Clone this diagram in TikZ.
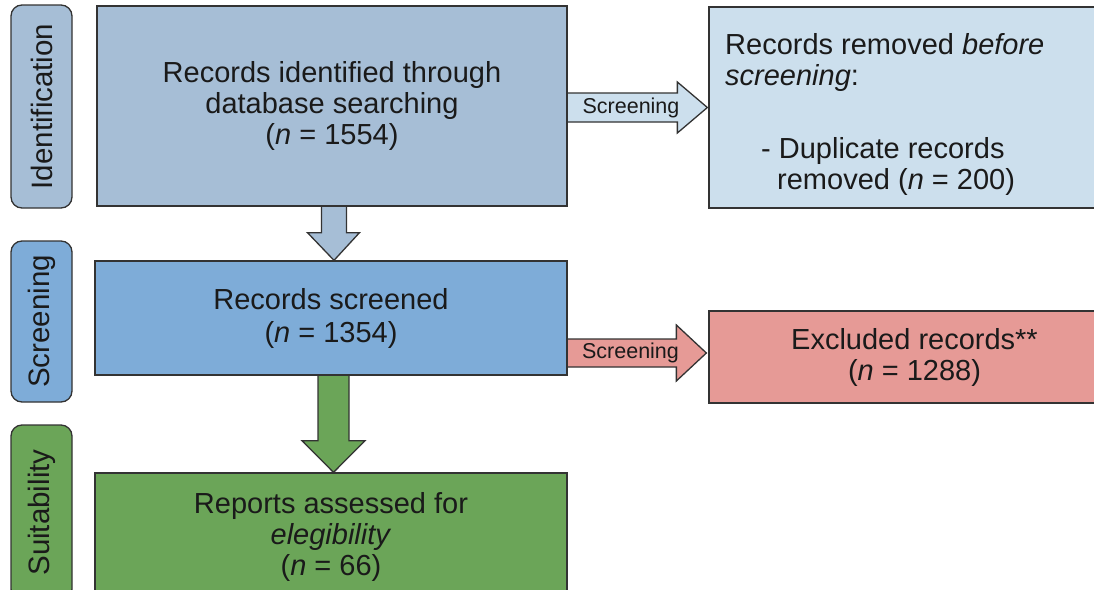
\documentclass[tikz,border=0pt]{standalone}
\usepackage{fontspec}
\setmainfont{Liberation Sans}
\usetikzlibrary{calc}
\pgfdeclarelayer{bg}
\pgfsetlayers{bg,main}
\definecolor{cIdent}{HTML}{A6BED6}
\definecolor{cScreen}{HTML}{7EACD8}
\definecolor{cGreen}{HTML}{6BA558}
\definecolor{cLight}{HTML}{CCDFED}
\definecolor{cRed}{HTML}{E69A96}
\definecolor{cLine}{HTML}{333333}
\definecolor{cText}{HTML}{1A1A1A}
\begin{document}
\begin{tikzpicture}[x=1pt,y=-1pt,
  box/.style={draw=cLine, line width=1.3pt, inner sep=0pt, align=center,
    text=cText, font=\fontsize{29}{31}\selectfont},
  lab/.style={draw=cLine, line width=1.3pt, rounded corners=11pt, inner sep=0pt,
    text=cText, font=\fontsize{29.5}{31}\selectfont, rotate=90},
  blockarrow/.style={draw=cLine, line width=1.3pt, line join=miter},
  arrowlabel/.style={text=cText, font=\fontsize{21.5}{24}\selectfont, inner sep=0pt}]
\clip (0,0) rectangle (1094,589);

% phase labels
\node[lab, fill=cIdent, minimum width=203, minimum height=61] (l1) at (41.5,106.5) {Identification};
\node[lab, fill=cScreen, minimum width=161, minimum height=61] (l2) at (41.5,321.5) {Screening};
\node[lab, fill=cGreen, minimum width=175, minimum height=61] (l3) at (41.5,512.5) {Suitability};

% main boxes
\node[box, fill=cIdent, minimum width=470, minimum height=200] (b1) at (332,106)
  {Records identified through\\database searching\\(\textit{n} = 1554)};
\node[box, fill=cScreen, minimum width=472, minimum height=114] (b2) at (331,318)
  {Records screened\\[2pt](\textit{n} = 1354)};
\node[box, fill=cGreen, minimum width=472, minimum height=127] (b3) at (331,536.5)
  {Reports assessed for\\\textit{elegibility}\\(\textit{n} = 66)};

% right boxes
\node[box, fill=cLight, minimum width=411, minimum height=201] (rm) at (914.5,107.5) {};
\node[anchor=north west, inner sep=0pt, align=left, text=cText,
  font=\fontsize{29}{31}\selectfont] (rmt) at (725,33)
  {Records removed \textit{before}\\\textit{screening}:\\[42pt]
   \hspace*{36pt}- Duplicate records\\
   \hspace*{52pt}removed (\textit{n} = 200)};
\node[box, fill=cRed, minimum width=411, minimum height=92] (ex) at (914.5,357)
  {Excluded records**\\(\textit{n} = 1288)};

% block arrows (behind the boxes)
\begin{pgfonlayer}{bg}
\fill[white] (0,0) rectangle (1094,589);
\draw[blockarrow, fill=cIdent] ($(b1.south)+(-10.5,0)$) -- ($(b1.south)+(-10.5,26)$)
  -- ($(b1.south)+(-24.5,26)$) -- ($(b2.north)+(3,0)$) -- ($(b1.south)+(27.5,26)$)
  -- ($(b1.south)+(14.5,26)$) -- ($(b1.south)+(14.5,0)$);

\draw[blockarrow, fill=cGreen] ($(b2.south)+(-13,0)$) -- ($(b2.south)+(-13,65)$)
  -- ($(b2.south)+(-29,65)$) -- ($(b3.north)+(2.5,0)$) -- ($(b2.south)+(34,65)$)
  -- ($(b2.south)+(18,65)$) -- ($(b2.south)+(18,0)$);

\draw[blockarrow, fill=cLight] ($(b1.east|-rm.west)+(0,-14.5)$) -- ($(rm.west)+(-31,-14.5)$)
  -- ($(rm.west)+(-31,-25.5)$) -- ($(rm.west)+(-1,0)$) -- ($(rm.west)+(-31,25.5)$)
  -- ($(rm.west)+(-31,14.5)$) -- ($(b1.east|-rm.west)+(0,14.5)$);

\draw[blockarrow, fill=cRed] ($(b2.east|-ex.west)+(0,-18)$) -- ($(ex.west)+(-32,-18)$)
  -- ($(ex.west)+(-32,-32)$) -- ($(ex.west)+(-2,-4)$) -- ($(ex.west)+(-32,24)$)
  -- ($(ex.west)+(-32,10)$) -- ($(b2.east|-ex.west)+(0,10)$);
\end{pgfonlayer}

\node[arrowlabel] (s1) at (631,108) {Screening};
\node[arrowlabel] (s2) at (630.5,353) {Screening};
\end{tikzpicture}
\end{document}
